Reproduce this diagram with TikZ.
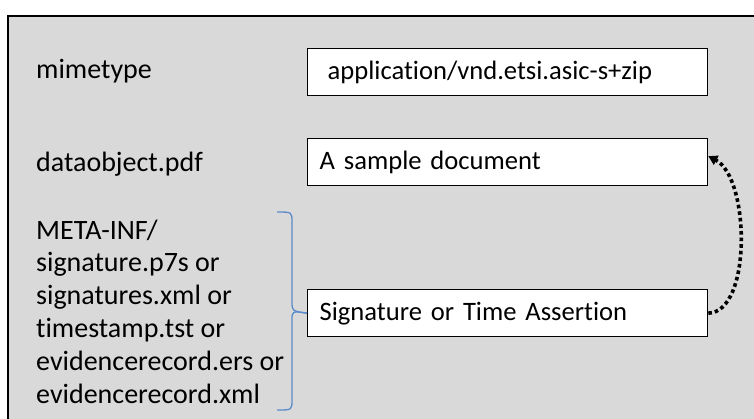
\documentclass[tikz,border=0pt]{standalone}
\usepackage{fontspec}
\setmainfont[Ligatures=NoCommon]{Carlito}
\usetikzlibrary{arrows.meta}
\definecolor{panelgray}{HTML}{D9D9D9}
\definecolor{braceblue}{HTML}{5B8BC9}
\tikzset{
  lefttext/.style={anchor=base west, inner sep=0pt, font=\fontsize{28}{32.8}\selectfont},
  boxnode/.style={draw=black, line width=1.3pt, fill=white, anchor=north west, minimum width=400pt, minimum height=47pt, text width=376pt, inner xsep=12pt, inner ysep=0pt, align=left, font=\fontsize{26.6}{30}\selectfont},
  bracestyle/.style={draw=braceblue, line width=1.3pt},
  dottedarrow/.style={draw=black, line width=3.6pt, dash pattern=on 3.6pt off 3pt, -{Triangle[length=9pt,width=10pt]}}
}
\begin{document}
\begin{tikzpicture}[x=1pt,y=-1pt]
\useasboundingbox (0,0) rectangle (754,418);
\begin{scope}
\clip (0,0) rectangle (754,418);
\draw[fill=panelgray, draw=black, line width=1.5pt] (8,16) rectangle (770,440);
\end{scope}
\node[lefttext] (mime) at (36,78) {mimetype};
\node[lefttext] (data) at (36,171) {dataobject.pdf};
\node[lefttext] (meta) at (36,239) {\parbox[t]{300pt}{\fontsize{28}{32.8}\selectfont META-INF/\\signature.p7s or\\signatures.xml or\\timestamp.tst or\\evidencerecord.ers or\\evidencerecord.xml}};
\node[boxnode] (b1) at (307,48) {\hspace*{8pt}application/vnd.etsi.asic-s+zip};
\node[boxnode] (b2) at (307,138) {A sample document};
\node[boxnode] (b3) at (307,289) {Signature or Time Assertion};
\coordinate (bt) at (277,212);
\coordinate (bb) at (277,410);
\draw[bracestyle] (bt) .. controls (292,212) .. (292,222) -- (292,302) .. controls (292,311) .. (b3.west);
\draw[bracestyle] (bb) .. controls (292,410) .. (292,400) -- (292,320) .. controls (292,311) .. (b3.west);
\draw[dottedarrow] (b3.east) .. controls (752,312) and (750,178) .. ([yshift=6pt]b2.east);
\end{tikzpicture}
\end{document}
